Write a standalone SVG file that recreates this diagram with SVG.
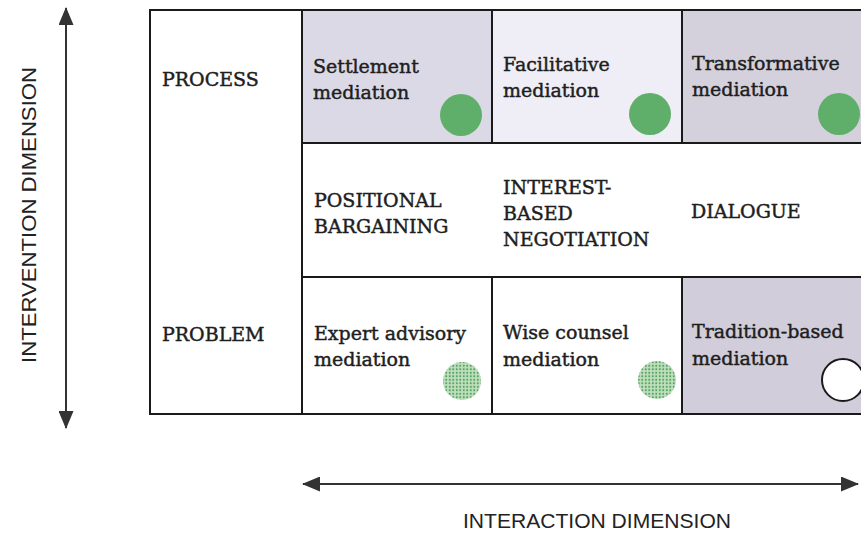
<svg xmlns="http://www.w3.org/2000/svg" width="861" height="534" viewBox="0 0 861 534">
<style>
.cell{stroke:#1a1a1a;stroke-width:2}
.t{font-family:"DejaVu Serif","Liberation Serif",serif;font-size:19px;fill:#1e1e1e;stroke:#1e1e1e;stroke-width:0.45}
.s{font-family:"Liberation Sans",Arial,sans-serif;font-size:21px;fill:#222}
.dot{fill:#5fae6a}
.ax{stroke:#333;stroke-width:2;fill:none}
</style>
<defs>
<pattern id="stip" width="3.5" height="3.5" patternUnits="userSpaceOnUse">
<rect width="3.5" height="3.5" fill="#bfe0bf"/>
<circle cx="1.75" cy="1.75" r="1.05" fill="#55a25e"/>
</pattern>
<marker id="ah" viewBox="0 0 18 15" refX="17" refY="7.5" markerWidth="18" markerHeight="15" markerUnits="userSpaceOnUse" orient="auto-start-reverse">
<path d="M0,0 L18,7.5 L0,15 Z" fill="#333"/>
</marker>
</defs>
<rect width="861" height="534" fill="#fff"/>

<g id="left-column">
<rect class="cell" x="150" y="10" width="152" height="404" fill="#fff"/>
<text class="t" x="162" y="86">PROCESS</text>
<text class="t" x="162" y="341">PROBLEM</text>
</g>

<g id="settlement">
<rect class="cell" x="302" y="10" width="190" height="133" fill="#dcd9e7"/>
<text class="t" x="313" y="73">Settlement</text>
<text class="t" x="313" y="99">mediation</text>
<circle class="dot" cx="461" cy="115" r="21"/>
</g>
<g id="facilitative">
<rect class="cell" x="492" y="10" width="190" height="133" fill="#efedf5"/>
<text class="t" x="503" y="71">Facilitative</text>
<text class="t" x="503" y="97">mediation</text>
<circle class="dot" cx="650" cy="114" r="21"/>
</g>
<g id="transformative">
<rect class="cell" x="682" y="10" width="190" height="133" fill="#d4d1dc"/>
<text class="t" x="692" y="70">Transformative</text>
<text class="t" x="692" y="96">mediation</text>
<circle class="dot" cx="839" cy="114" r="21"/>
</g>

<g id="middle-row">
<rect class="cell" x="302" y="143" width="570" height="134" fill="#fff"/>
<text class="t" x="314" y="207">POSITIONAL</text>
<text class="t" x="314" y="233">BARGAINING</text>
<text class="t" x="503" y="194">INTEREST-</text>
<text class="t" x="503" y="220">BASED</text>
<text class="t" x="503" y="246">NEGOTIATION</text>
<text class="t" x="691" y="218">DIALOGUE</text>
</g>

<g id="expert">
<rect class="cell" x="302" y="277" width="190" height="137" fill="#fff"/>
<text class="t" x="314" y="340">Expert advisory</text>
<text class="t" x="314" y="366">mediation</text>
<circle cx="462" cy="381" r="19" fill="url(#stip)"/>
</g>
<g id="wise">
<rect class="cell" x="492" y="277" width="190" height="137" fill="#fff"/>
<text class="t" x="503" y="339">Wise counsel</text>
<text class="t" x="503" y="366">mediation</text>
<circle cx="657" cy="380" r="19" fill="url(#stip)"/>
</g>
<g id="tradition">
<rect class="cell" x="682" y="277" width="190" height="137" fill="#d1cdda"/>
<text class="t" x="692" y="338">Tradition-based</text>
<text class="t" x="692" y="365">mediation</text>
<circle cx="843" cy="380" r="21" fill="#fff" stroke="#1a1a1a" stroke-width="2"/>
</g>

<g id="connectors">
<line class="ax" x1="66" y1="8" x2="66" y2="428" marker-start="url(#ah)" marker-end="url(#ah)"/>
<line class="ax" x1="303" y1="484" x2="858" y2="484" marker-start="url(#ah)" marker-end="url(#ah)"/>
</g>

<g id="axis-labels">
<text class="s" transform="translate(36,215) rotate(-90)" text-anchor="middle" font-size="22" textLength="296" lengthAdjust="spacingAndGlyphs">INTERVENTION DIMENSION</text>
<text class="s" x="597" y="528" text-anchor="middle" textLength="268" lengthAdjust="spacingAndGlyphs">INTERACTION DIMENSION</text>
</g>
</svg>
